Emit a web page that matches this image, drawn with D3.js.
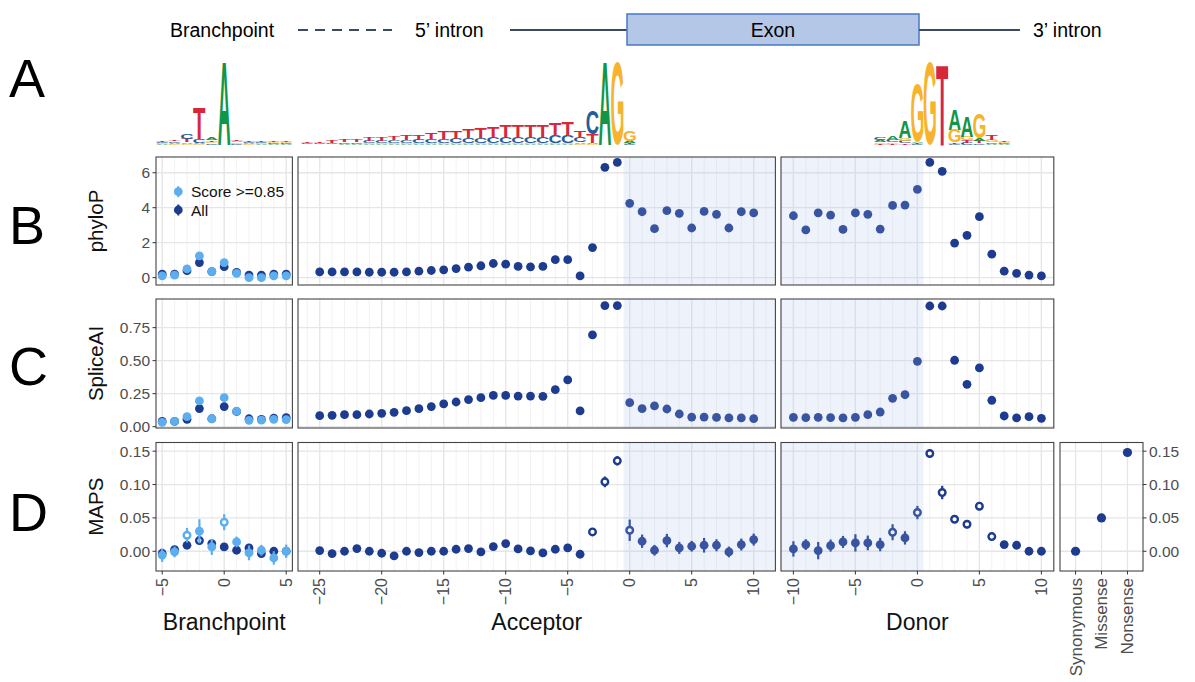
<!DOCTYPE html>
<html><head><meta charset="utf-8">
<script src="https://cdn.jsdelivr.net/npm/d3@7"></script>
<style>body{margin:0;background:#fff} svg{display:block} text{font-family:"Liberation Sans",Arial,sans-serif}</style>
</head><body><svg id="c" width="1195" height="682"></svg>
<script>
// ---------------- DATA ----------------
const bpPos = d3.range(-5, 6);
const accPos = d3.range(-25, 11);
const donPos = d3.range(-10, 11);

// phyloP
const bpPhyloHigh = [0.1,0.15,0.5,1.24,0.34,0.86,0.25,0.0,0.0,0.1,0.1];
const bpPhyloAll  = [0.2,0.2,0.4,0.86,0.35,0.63,0.3,0.15,0.15,0.2,0.2];
const accPhylo = [0.33,0.33,0.33,0.33,0.31,0.31,0.31,0.33,0.37,0.41,0.45,0.52,0.6,0.68,0.81,0.77,0.64,0.62,0.64,1.03,1.03,0.1,1.72,6.31,6.59,
                  4.25,3.77,2.8,3.83,3.68,2.84,3.79,3.62,2.84,3.77,3.7];
const donPhylo = [3.54,2.73,3.71,3.58,2.76,3.7,3.62,2.78,4.13,4.15,5.05,6.59,6.08,1.98,2.42,3.49,1.34,0.37,0.25,0.15,0.1];

// SpliceAI
const bpSpliceHigh = [0.033,0.04,0.076,0.195,0.06,0.22,0.117,0.048,0.05,0.055,0.053];
const bpSpliceAll  = [0.04,0.04,0.056,0.137,0.06,0.152,0.115,0.06,0.055,0.065,0.068];
const accSplice = [0.083,0.086,0.091,0.091,0.096,0.101,0.109,0.121,0.136,0.152,0.172,0.187,0.205,0.22,0.237,0.237,0.232,0.232,0.23,0.28,0.354,0.119,0.695,0.917,0.917,
                   0.182,0.136,0.157,0.134,0.096,0.073,0.073,0.07,0.066,0.066,0.061];
const donSplice = [0.071,0.068,0.071,0.068,0.066,0.071,0.091,0.111,0.215,0.242,0.495,0.914,0.914,0.503,0.321,0.445,0.2,0.081,0.066,0.076,0.063];

// MAPS (value, error half-width, open = significant)
const bpMapsHigh     = [-0.006,-0.001,0.024,0.03,0.0065,0.0435,0.014,-0.0025,0.0015,-0.01,0.0];
const bpMapsHighErr  = [0.01,0.008,0.011,0.018,0.012,0.012,0.008,0.011,0.008,0.01,0.01];
const bpMapsHighOpen = [0,0,1,0,0,1,0,0,0,0,0];
const bpMapsAll      = [-0.003,0.0025,0.009,0.016,0.0115,0.0065,0.0015,0.005,-0.0035,0.0,0.0];
const bpMapsAllErr   = [0.004,0.004,0.004,0.005,0.004,0.004,0.004,0.004,0.004,0.004,0.004];
const bpMapsAllOpen  = [0,0,0,1,0,0,0,0,0,0,0];
const accMaps = [0.001,-0.0035,0,0.004,0,-0.003,-0.007,0,-0.002,0,0,0.003,0.004,-0.001,0.007,0.0115,0.0035,0.0005,-0.0025,0.003,0.005,-0.0045,0.029,0.104,0.1355,
                 0.0315,0.015,0.0015,0.016,0.005,0.0075,0.009,0.009,-0.001,0.01,0.0175];
const accMapsErr = [0.004,0.004,0.004,0.004,0.004,0.004,0.004,0.004,0.004,0.004,0.004,0.004,0.004,0.004,0.004,0.004,0.004,0.004,0.004,0.004,0.004,0.004,0.005,0.008,0.007,
                    0.016,0.01,0.008,0.01,0.009,0.008,0.011,0.009,0.008,0.009,0.009];
const accMapsOpen = [0,0,0,0,0,0,0,0,0,0,0,0,0,0,0,0,0,0,0,0,0,0,1,1,1, 1,0,0,0,0,0,0,0,0,0,0];
const donMaps    = [0.0035,0.01,0.001,0.0085,0.014,0.0125,0.0125,0.01,0.0285,0.02,0.058,0.1465,0.088,0.048,0.0405,0.0675,0.022,0.01,0.009,0.0,0.0];
const donMapsErr = [0.0115,0.008,0.013,0.009,0.009,0.013,0.011,0.01,0.012,0.01,0.01,0.006,0.01,0.005,0.006,0.006,0.005,0.004,0.004,0.003,0.003];
const donMapsOpen = [0,0,0,0,0,0,0,0,1,0,1,1,1,1,1,1,1,0,0,0,0];

const catNames = ["Synonymous","Missense","Nonsense"];
const catMaps = [0.0,0.05,0.148];

// tick labels
const bpTicks = [-5,0,5];
const accTicks = [-25,-20,-15,-10,-5,0,5,10];
const donTicks = [-10,-5,0,5,10];
const phyloTicks = [0,2,4,6];
const spliceTicks = [0,0.25,0.5,0.75];
const mapsTicks = [0,0.05,0.1,0.15];

// sequence logos (bits)
const bpLogoPos = d3.range(-5, 6);
const bpLogoA = [0.02,0.03,0.04,0.03,0.05,1.95,0.04,0.03,0.02,0.02,0.02];
const bpLogoC = [0.03,0.04,0.12,0.08,0.04,0.0,0.03,0.03,0.03,0.02,0.02];
const bpLogoG = [0.02,0.02,0.03,0.02,0.04,0.0,0.03,0.02,0.02,0.02,0.02];
const bpLogoT = [0.03,0.04,0.08,0.72,0.04,0.0,0.04,0.03,0.03,0.02,0.02];

const accLogoPos = d3.range(-26, 1);
const accLogoT = [0.03,0.04,0.05,0.06,0.07,0.08,0.09,0.1,0.11,0.13,0.15,0.17,0.19,0.21,0.23,0.25,0.26,0.27,0.27,0.28,0.3,0.32,0.15, 0.2,0.0,0.0,0.02];
const accLogoC = [0.02,0.03,0.03,0.04,0.04,0.05,0.06,0.07,0.07,0.08,0.09,0.1,0.11,0.12,0.13,0.14,0.15,0.15,0.16,0.16,0.17,0.18,0.12, 0.55,0.0,0.0,0.02];
const accLogoA = [0.01,0.01,0.01,0.02,0.02,0.02,0.02,0.02,0.02,0.02,0.02,0.02,0.02,0.02,0.02,0.02,0.02,0.02,0.02,0.02,0.02,0.02,0.04, 0.03,1.95,0.0,0.06];
const accLogoG = [0.01,0.01,0.01,0.01,0.01,0.02,0.02,0.02,0.02,0.02,0.02,0.02,0.02,0.02,0.02,0.02,0.02,0.02,0.02,0.02,0.02,0.02,0.03, 0.02,0.0,1.95,0.25];

const donLogoPos = d3.range(-3, 8);
const donLogoA = [0.05,0.1,0.38,0.04,0.0,0.0,0.5,0.5,0.06,0.03,0.02];
const donLogoC = [0.06,0.05,0.06,0.02,0.0,0.0,0.03,0.05,0.04,0.03,0.02];
const donLogoG = [0.04,0.04,0.06,1.35,1.95,0.0,0.3,0.08,0.6,0.06,0.03];
const donLogoT = [0.03,0.03,0.04,0.02,0.0,1.9,0.03,0.06,0.05,0.12,0.03];

// ---------------- DRAW ----------------
const svg = d3.select("#c");
const K = 12.4;
const navy = "#1d3b8f", sky = "#5caeee";

const xBp  = d3.scaleLinear().domain([-5.5, 5.5]).range([156, 156 + 11 * K]);
const xAcc = d3.scaleLinear().domain([-26.75, 11.75]).range([298, 298 + 38.5 * K]);
const xDon = d3.scaleLinear().domain([-11, 11]).range([781, 781 + 22 * K]);
const xCat = d3.scalePoint().domain(catNames).range([1060, 1143]).padding(0.6);

const yB = d3.scaleLinear().domain([-0.42, 6.9]).range([285, 157]);
const yC = d3.scaleLinear().domain([-0.01, 0.967]).range([428, 299]);
const yD = d3.scaleLinear().domain([-0.0296, 0.163]).range([571, 442.5]);

const facets = [
  {x: xBp, pos: bpPos, minor: d3.range(-5, 6), major: bpTicks, shade: null},
  {x: xAcc, pos: accPos, minor: d3.range(-26, 12), major: accTicks, shade: [-0.5, 11.75]},
  {x: xDon, pos: donPos, minor: d3.range(-11, 12), major: donTicks, shade: [-11, 0.5]}
];

function frame(x, y, minor, major, yMajor) {
  const [x0, x1] = x.range(); const [y1, y0] = y.range();
  const g = svg.append("g");
  g.append("rect").attr("x", x0).attr("y", y0).attr("width", x1 - x0).attr("height", y1 - y0).attr("fill", "#fff");
  g.selectAll(null).data(minor).join("line")
    .attr("x1", d => x(d)).attr("x2", d => x(d)).attr("y1", y0).attr("y2", y1)
    .attr("stroke", "#efefef").attr("stroke-width", 0.8);
  g.selectAll(null).data(major).join("line")
    .attr("x1", d => x(d)).attr("x2", d => x(d)).attr("y1", y0).attr("y2", y1)
    .attr("stroke", "#e6e6e6").attr("stroke-width", 1.3);
  g.selectAll(null).data(yMajor).join("line")
    .attr("x1", x0).attr("x2", x1).attr("y1", d => y(d)).attr("y2", d => y(d))
    .attr("stroke", "#e6e6e6").attr("stroke-width", 1.3);
  return {g, x0, x1, y0, y1};
}
function finish(f, x, shade) {
  if (shade) {
    const a = Math.max(x(shade[0]), f.x0), b = Math.min(x(shade[1]), f.x1);
    f.g.append("rect").attr("x", a).attr("y", f.y0).attr("width", b - a).attr("height", f.y1 - f.y0)
      .attr("fill", "#a9c0ea").attr("fill-opacity", 0.2);
  }
  f.g.append("rect").attr("x", f.x0).attr("y", f.y0).attr("width", f.x1 - f.x0).attr("height", f.y1 - f.y0)
    .attr("fill", "none").attr("stroke", "#444").attr("stroke-width", 1.1);
}
function dots(g, x, y, pos, vals, color) {
  g.selectAll(null).data(pos.map((p, i) => [p, vals[i]])).join("circle")
    .attr("cx", d => x(d[0])).attr("cy", d => y(d[1])).attr("r", 4.4).attr("fill", color);
}
function ranges(g, x, y, pos, vals, errs, open, color) {
  const data = pos.map((p, i) => ({p, v: vals[i], e: errs[i], o: open[i]}));
  g.selectAll(null).data(data).join("line")
    .attr("x1", d => x(d.p)).attr("x2", d => x(d.p))
    .attr("y1", d => y(d.v - d.e)).attr("y2", d => y(d.v + d.e))
    .attr("stroke", color).attr("stroke-width", 2.2);
  g.selectAll(null).data(data).join("circle")
    .attr("cx", d => x(d.p)).attr("cy", d => y(d.v))
    .attr("r", d => d.o ? 3.3 : 4.4)
    .attr("fill", d => d.o ? "#fff" : color)
    .attr("stroke", d => d.o ? color : "none").attr("stroke-width", 2.4);
}
function yAxisLeft(y, ticks, fmt) {
  const g = svg.append("g");
  ticks.forEach(t => {
    g.append("line").attr("x1", 152.5).attr("x2", 156).attr("y1", y(t)).attr("y2", y(t)).attr("stroke", "#333").attr("stroke-width", 1);
    g.append("text").attr("x", 150).attr("y", y(t)).attr("dy", "0.35em").attr("text-anchor", "end")
      .attr("font-size", 15.5).attr("fill", "#4d4d4d").text(fmt(t));
  });
}

// Row B
const bVals = [null, accPhylo, donPhylo];
facets.forEach((fc, i) => {
  const f = frame(fc.x, yB, fc.minor, fc.major, phyloTicks);
  if (i === 0) { dots(f.g, fc.x, yB, fc.pos, bpPhyloAll, navy); dots(f.g, fc.x, yB, fc.pos, bpPhyloHigh, sky); }
  else dots(f.g, fc.x, yB, fc.pos, bVals[i], navy);
  finish(f, fc.x, fc.shade);
  if (i === 0) {
    const lg = f.g.append("g");
    [["Score >=0.85", sky, 191.7], ["All", navy, 210]].forEach(([lab, col, yy]) => {
      lg.append("line").attr("x1", 178.3).attr("x2", 178.3).attr("y1", yy - 5.5).attr("y2", yy + 5.5).attr("stroke", col).attr("stroke-width", 2);
      lg.append("circle").attr("cx", 178.3).attr("cy", yy).attr("r", 4.4).attr("fill", col);
      lg.append("text").attr("x", 191).attr("y", yy).attr("dy", "0.36em").attr("font-size", 15.5).attr("fill", "#111").text(lab);
    });
  }
});
yAxisLeft(yB, phyloTicks, d3.format("d"));

// Row C
const cVals = [null, accSplice, donSplice];
facets.forEach((fc, i) => {
  const f = frame(fc.x, yC, fc.minor, fc.major, spliceTicks);
  if (i === 0) { dots(f.g, fc.x, yC, fc.pos, bpSpliceAll, navy); dots(f.g, fc.x, yC, fc.pos, bpSpliceHigh, sky); }
  else dots(f.g, fc.x, yC, fc.pos, cVals[i], navy);
  finish(f, fc.x, fc.shade);
});
yAxisLeft(yC, spliceTicks, d3.format(".2f"));

// Row D
facets.forEach((fc, i) => {
  const f = frame(fc.x, yD, fc.minor, fc.major, mapsTicks);
  if (i === 0) {
    ranges(f.g, fc.x, yD, fc.pos, bpMapsAll, bpMapsAllErr, bpMapsAllOpen, navy);
    ranges(f.g, fc.x, yD, fc.pos, bpMapsHigh, bpMapsHighErr, bpMapsHighOpen, sky);
  } else if (i === 1) ranges(f.g, fc.x, yD, fc.pos, accMaps, accMapsErr, accMapsOpen, navy);
  else ranges(f.g, fc.x, yD, fc.pos, donMaps, donMapsErr, donMapsOpen, navy);
  finish(f, fc.x, fc.shade);
  fc.major.forEach(t => {
    svg.append("line").attr("x1", fc.x(t)).attr("x2", fc.x(t)).attr("y1", 571).attr("y2", 574.5).attr("stroke", "#333");
    svg.append("text").attr("transform", `translate(${fc.x(t)},578) rotate(-90)`)
      .attr("text-anchor", "end").attr("dy", "0.35em").attr("font-size", 16).attr("fill", "#4d4d4d")
      .text(t < 0 ? "\u2212" + Math.abs(t) : String(t));
  });
});
yAxisLeft(yD, mapsTicks, d3.format(".2f"));

// category panel
{
  const f = frame(xCat, yD, [], catNames, mapsTicks);
  f.g.selectAll(null).data(catNames).join("circle")
    .attr("cx", d => xCat(d)).attr("cy", (d, i) => yD(catMaps[i])).attr("r", 4.6).attr("fill", navy);
  finish(f, xCat, null);
  mapsTicks.forEach(t => {
    svg.append("line").attr("x1", f.x1).attr("x2", f.x1 + 3.5).attr("y1", yD(t)).attr("y2", yD(t)).attr("stroke", "#333");
    svg.append("text").attr("x", f.x1 + 6).attr("y", yD(t)).attr("dy", "0.35em").attr("font-size", 15.5).attr("fill", "#4d4d4d").text(d3.format(".2f")(t));
  });
  catNames.forEach(c => {
    svg.append("line").attr("x1", xCat(c)).attr("x2", xCat(c)).attr("y1", 571).attr("y2", 574.5).attr("stroke", "#333");
    svg.append("text").attr("transform", `translate(${xCat(c)},578) rotate(-90)`)
      .attr("text-anchor", "end").attr("dy", "0.35em").attr("font-size", 17).attr("fill", "#4d4d4d").text(c);
  });
}

// axis titles
[["Branchpoint", xBp], ["Acceptor", xAcc], ["Donor", xDon]].forEach(([t, x]) => {
  const r = x.range();
  svg.append("text").attr("x", (r[0] + r[1]) / 2).attr("y", 630).attr("text-anchor", "middle").attr("font-size", 23).attr("fill", "#111").text(t);
});
[["phyloP", yB], ["SpliceAI", yC], ["MAPS", yD]].forEach(([t, y]) => {
  const r = y.range();
  svg.append("text").attr("transform", `translate(103,${(r[0] + r[1]) / 2}) rotate(-90)`)
    .attr("text-anchor", "middle").attr("font-size", 20.5).attr("fill", "#111").text(t);
});

// panel letters
[["A", 97], ["B", 244], ["C", 385], ["D", 531]].forEach(([t, yy]) => {
  svg.append("text").attr("x", 9).attr("y", yy).attr("font-size", 54).attr("fill", "#000").text(t);
});

// header schematic
{
  const g = svg.append("g");
  const lc = "#3b4a5e";
  g.append("text").attr("x", 170).attr("y", 37).attr("font-size", 19.5).attr("fill", "#000").text("Branchpoint");
  g.append("line").attr("x1", 298).attr("x2", 392).attr("y1", 30).attr("y2", 30).attr("stroke", lc).attr("stroke-width", 2).attr("stroke-dasharray", "10,7");
  g.append("text").attr("x", 415).attr("y", 37).attr("font-size", 19.5).attr("fill", "#000").text("5\u2019 intron");
  g.append("line").attr("x1", 510).attr("x2", 627).attr("y1", 30).attr("y2", 30).attr("stroke", lc).attr("stroke-width", 2);
  g.append("rect").attr("x", 627).attr("y", 14).attr("width", 292).attr("height", 31).attr("fill", "#b4c7e7").attr("stroke", "#4a78c0").attr("stroke-width", 1.5);
  g.append("text").attr("x", 773).attr("y", 37).attr("text-anchor", "middle").attr("font-size", 19.5).attr("fill", "#000").text("Exon");
  g.append("line").attr("x1", 919).attr("x2", 1020).attr("y1", 30).attr("y2", 30).attr("stroke", lc).attr("stroke-width", 2);
  g.append("text").attr("x", 1033).attr("y", 37).attr("font-size", 19.5).attr("fill", "#000").text("3\u2019 intron");
}

// sequence logos
const logoCol = {A: "#109648", C: "#255C99", G: "#F7B32B", T: "#D62839"};
const ctx = document.createElement("canvas").getContext("2d");
ctx.font = 'bold 100px "Liberation Sans"';
const met = {};
for (const L of "ACGT") {
  const m = ctx.measureText(L);
  met[L] = {l: m.actualBoundingBoxLeft, r: m.actualBoundingBoxRight, a: m.actualBoundingBoxAscent, d: m.actualBoundingBoxDescent};
}
const yLogo = d3.scaleLinear().domain([0, 2]).range([145, 60]);
function logo(x, pos, A, C, G, T) {
  const g = svg.append("g");
  pos.forEach((p, i) => {
    const stack = [["A", A[i]], ["C", C[i]], ["G", G[i]], ["T", T[i]]].filter(s => s[1] > 0).sort((a, b) => a[1] - b[1]);
    let base = 0;
    const w = K * 0.98, xl = x(p) - w / 2;
    stack.forEach(([L, h]) => {
      const yb = yLogo(base), yt = yLogo(base + h), hh = yb - yt;
      base += h;
      if (hh < 0.6) return;
      const m = met[L];
      const sx = w / (m.l + m.r), sy = hh / (m.a + m.d);
      g.append("text").attr("font-size", 100).attr("font-weight", "bold").attr("fill", logoCol[L])
        .attr("transform", `translate(${xl},${yb}) scale(${sx},${sy}) translate(${m.l},${-m.d})`).text(L);
    });
  });
}
logo(xBp, bpLogoPos, bpLogoA, bpLogoC, bpLogoG, bpLogoT);
logo(xAcc, accLogoPos, accLogoA, accLogoC, accLogoG, accLogoT);
logo(xDon, donLogoPos, donLogoA, donLogoC, donLogoG, donLogoT);
</script></body></html>
